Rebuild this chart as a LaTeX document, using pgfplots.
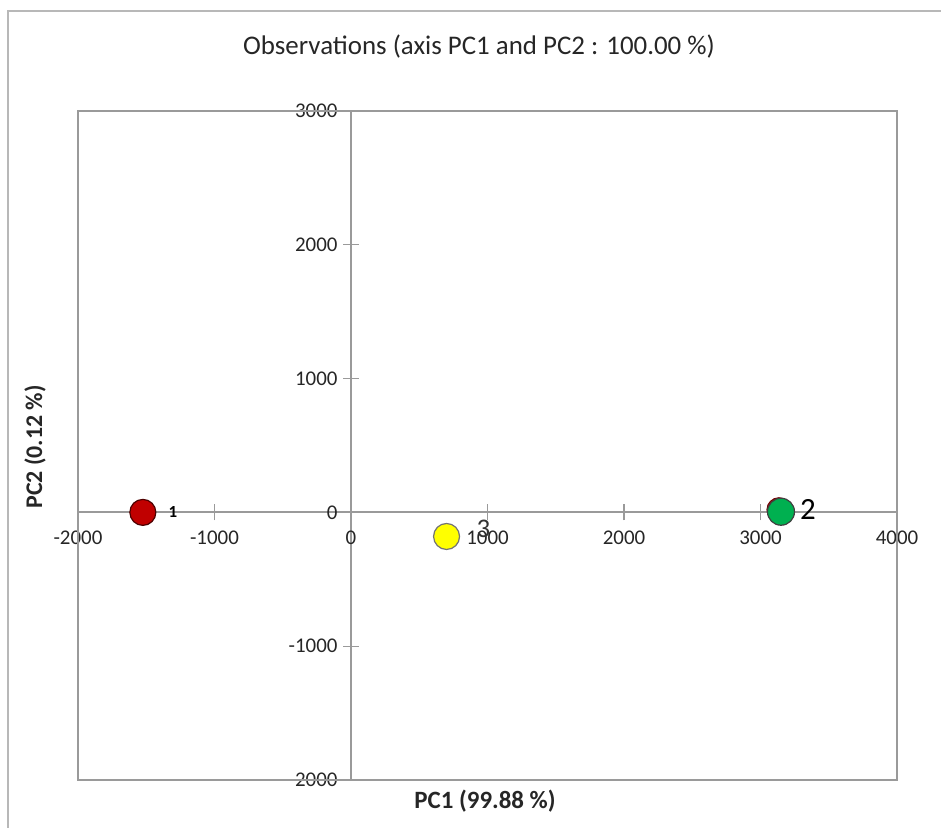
\documentclass[border=0pt]{standalone}
\usepackage{fontspec}
\setmainfont{Carlito}
\usepackage{pgfplots}
\pgfplotsset{compat=1.18}
\definecolor{axgray}{HTML}{9A9A9A}
\definecolor{ptred}{HTML}{C00000}
\definecolor{ptgreen}{HTML}{00B050}
\definecolor{ptyellow}{HTML}{FFFF00}
\begin{document}
\begin{tikzpicture}[x=1bp,y=1bp]
\useasboundingbox (-78,-48) rectangle (863,780);
\draw[color=black!28, line width=1.2bp] (-70,-70) rectangle (880,769);
\node[font=\fontsize{27}{27}\selectfont, text=black!85] at (401,733) {Observations (axis PC1 and PC2 : 100.00 \%)};
\node[font=\bfseries\fontsize{25}{25}\selectfont, text=black!85] at (407,-21) {PC1 (99.88 \%)};
\node[font=\bfseries\fontsize{24}{24}\selectfont, text=black!85, rotate=90] at (-43,333) {PC2 (0.12 \%)};
\begin{axis}[at={(0,0)}, anchor=south west, scale only axis, width=819bp, height=669bp,
 xmin=-2000,xmax=4000,ymin=-2000,ymax=3000,
 axis lines=middle, axis line style={-, draw=axgray, line width=1.8bp},
 xtick={-2000,-1000,...,4000}, ytick={-2000,-1000,...,3000},
 hide obscured x ticks=false, hide obscured y ticks=false,
 tick align=center, major tick length=16bp, tick style={axgray, line width=1.2bp},
 /pgf/number format/assume math mode=true, /pgf/number format/1000 sep={},
 ticklabel style={font=\fontsize{21}{21}\selectfont, text=black!85},
 xticklabel style={yshift=-7bp},
 yticklabel style={xshift=-2bp},
 clip=false,
 ]
\draw[axgray, line width=1.8bp] (rel axis cs:0,0) rectangle (rel axis cs:1,1);
\addplot[only marks, mark=*, mark size=12bp, mark options={fill=ptred, draw=ptred!60!black, line width=1bp}] coordinates {(3135,20)};
\addplot[only marks, mark=*, mark size=13bp, mark options={fill=ptred, draw=ptred!40!black, line width=1.2bp},
 nodes near coords={1}, nodes near coords align={anchor=center},
 every node near coord/.append style={font=\bfseries\fontsize{17}{17}\selectfont, text=black, xshift=30bp}] coordinates {(-1525,0)};
\addplot[only marks, mark=*, mark size=13.5bp, mark options={fill=ptgreen, draw=black!75, line width=1.2bp},
 nodes near coords={2}, nodes near coords align={anchor=center},
 every node near coord/.append style={font=\fontsize{31}{31}\selectfont, text=black, xshift=27bp, yshift=2bp}] coordinates {(3150,5)};
\addplot[only marks, mark=*, mark size=13bp, mark options={fill=ptyellow, draw=black!55, line width=1.2bp},
 nodes near coords={3}, nodes near coords align={anchor=center},
 every node near coord/.append style={font=\fontsize{27}{27}\selectfont, text=black!80, xshift=37bp, yshift=8bp}] coordinates {(700,-180)};
\end{axis}
\end{tikzpicture}
\end{document}
